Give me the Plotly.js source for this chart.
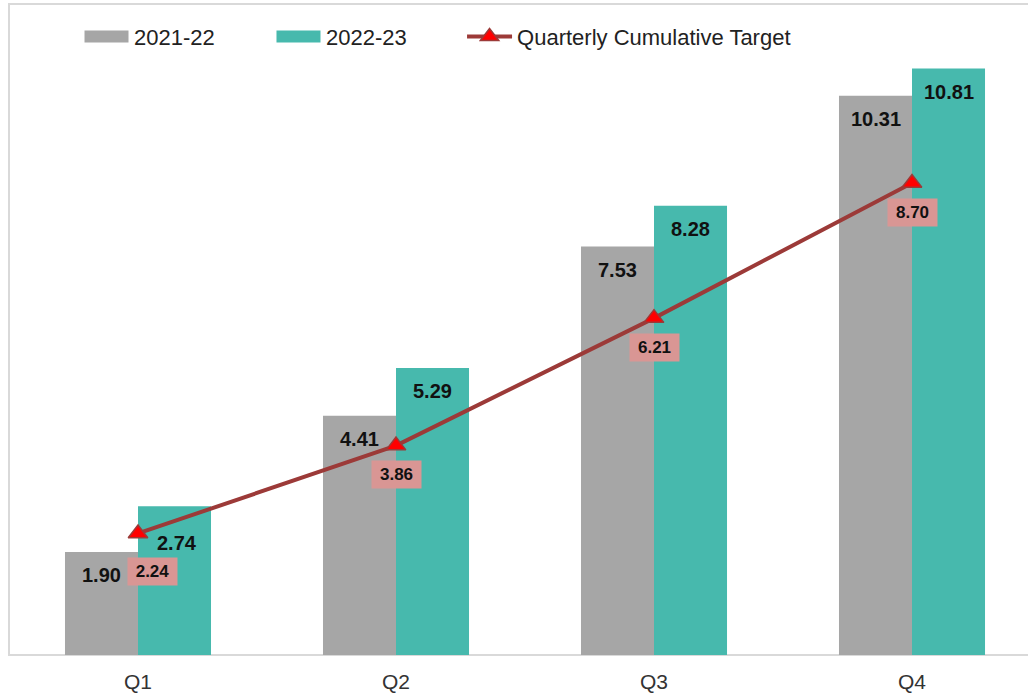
<!DOCTYPE html>
<html><head><meta charset="utf-8">
<script src="https://cdn.plot.ly/plotly-3.0.1.min.js"></script>
<style>html,body{margin:0;padding:0;background:#fff}#chart{width:1028px;height:693px}</style>
</head><body><div id="chart"></div>
<script>
// ---- data ----
const quarters = ['Q1', 'Q2', 'Q3', 'Q4'];
const fy2122 = [1.90, 4.41, 7.53, 10.31];
const fy2223 = [2.74, 5.29, 8.28, 10.81];
const target = [2.24, 3.86, 6.21, 8.70];
const seriesNames = ['2021-22', '2022-23', 'Quarterly Cumulative Target'];

// ---- style ----
const FONT = 'Arial, "Liberation Sans", sans-serif';
const GREY = '#A6A6A6', TEAL = '#47B9AD', LINE = '#9C3A38', MARK = '#FF0000', PINK = '#D99694';
const fmt = v => v.toFixed(2);

const traces = [
  {type: 'bar', name: seriesNames[0], x: quarters, y: fy2122, marker: {color: GREY}, hoverinfo: 'y', legend: 'legend'},
  {type: 'bar', name: seriesNames[1], x: quarters, y: fy2223, marker: {color: TEAL}, hoverinfo: 'y', legend: 'legend2'},
  {type: 'scatter', mode: 'lines+markers', name: seriesNames[2], x: quarters, y: target, legend: 'legend3',
   line: {color: LINE, width: 4},
   marker: {symbol: 'triangle-up', size: 17, color: MARK, line: {color: LINE, width: 1.5}}}
];

const annotations = [];
quarters.forEach((q, i) => {
  annotations.push({x: q, y: fy2122[i], xref: 'x', yref: 'y', text: '<b>' + fmt(fy2122[i]) + '</b>',
    showarrow: false, xshift: -36.5, yshift: -23, yanchor: 'middle',
    font: {family: FONT, size: 20, color: '#111'}});
  annotations.push({x: q, y: fy2223[i], xref: 'x', yref: 'y', text: '<b>' + fmt(fy2223[i]) + '</b>',
    showarrow: false, xshift: i === 0 ? 39 : 36.5, yshift: i === 0 ? -37 : -23, yanchor: 'middle',
    font: {family: FONT, size: 20, color: '#111'}});
  annotations.push({x: q, y: target[i], xref: 'x', yref: 'y', text: '<b>' + fmt(target[i]) + '</b>',
    showarrow: false, xshift: i === 0 ? 14 : 0, yshift: i === 0 ? -38 : -29, yanchor: 'middle',
    bgcolor: PINK, width: 49, height: 27, borderpad: 0,
    font: {family: FONT, size: 17, color: '#111'}});
});

const legendBase = {orientation: 'h', y: 0.982, xanchor: 'left', yanchor: 'top',
  font: {family: FONT, size: 22, color: '#222'}, itemwidth: 45, bgcolor: 'rgba(0,0,0,0)'};

const layout = {
  width: 1028, height: 693,
  margin: {l: 9, r: 0, t: 4, b: 38},
  paper_bgcolor: '#fff', plot_bgcolor: '#fff',
  font: {family: FONT, color: '#222'},
  barmode: 'group', bargap: 0.434, bargroupgap: 0,
  showlegend: true,
  legend: Object.assign({}, legendBase, {x: 0.0687}),
  legend2: Object.assign({}, legendBase, {x: 0.2571}),
  legend3: Object.assign({}, legendBase, {x: 0.4446}),
  xaxis: {type: 'category', range: [-0.5, 3.4496], showline: false, showgrid: false, zeroline: false,
          ticks: '', ticklabelstandoff: 12, tickfont: {family: FONT, size: 21, color: '#333'}, fixedrange: true},
  yaxis: {range: [0, 12], showline: false, showgrid: false, zeroline: false, showticklabels: false,
          ticks: '', fixedrange: true},
  shapes: [
    {type: 'rect', xref: 'paper', yref: 'paper', x0: 0, x1: 1.05, y0: 0, y1: 1,
     line: {color: '#D9D9D9', width: 2}, fillcolor: 'rgba(0,0,0,0)', layer: 'below'}
  ],
  annotations: annotations
};

Plotly.newPlot('chart', traces, layout, {displayModeBar: false, staticPlot: true}).then(gd => {
  gd.querySelectorAll('.legendpoints path').forEach(p => {
    const d = p.getAttribute('d') || '';
    if (d.replace(/\s/g, '') === 'M6,6H-6V-6H6Z') p.setAttribute('d', 'M22,6H-22V-6H22Z');
  });
});
</script></body></html>
